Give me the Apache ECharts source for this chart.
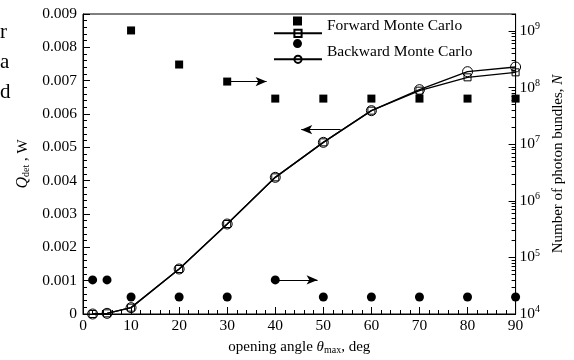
<!DOCTYPE html>
<html>
<head>
<meta charset="utf-8">
<script src="https://cdn.jsdelivr.net/npm/echarts@6/dist/echarts.min.js"></script>
<style>
html, body { margin: 0; padding: 0; background: #fff; }
#chart { width: 574px; height: 360px; }
</style>
</head>
<body>
<div id="chart"></div>
<script>
// opening angle (deg) and detected power Q (W)
const angles = [2, 5, 10, 20, 30, 40, 50, 60, 70, 80, 90];
const forwardQ = [0, 0.00002, 0.00019, 0.00135, 0.0027, 0.0041, 0.00515, 0.0061, 0.0067, 0.0071, 0.00725];
const backwardQ = [0, 0.00002, 0.00019, 0.00135, 0.0027, 0.0041, 0.00515, 0.0061, 0.00673, 0.00727, 0.00741];

// number of photon bundles N
const forwardAngles = [10, 20, 30, 40, 50, 60, 70, 80, 90];
const forwardN = [1.024e9, 2.56e8, 1.28e8, 6.4e7, 6.4e7, 6.4e7, 6.4e7, 6.4e7, 6.4e7];
const backwardN = [4e4, 4e4, 2e4, 2e4, 2e4, 4e4, 2e4, 2e4, 2e4, 2e4, 2e4];

// tick values
const nMajor = [1e4, 1e5, 1e6, 1e7, 1e8, 1e9];
const nMinor = [];
nMajor.forEach(function (p) {
  for (let k = 2; k <= 9; k++) {
    if (p * k <= 2e9) nMinor.push(p * k);
  }
});

// annotation arrows [from, to]
const arrowsN = [[[30, 1.28e8], [38.2, 1.28e8]], [[40, 4e4], [48.8, 4e4]]];
const arrowsQ = [[[53.6, 0.00553], [45.4, 0.00553]]];

const FONT = "'Liberation Serif', 'DejaVu Serif', serif";

function pairs(xs, ys) {
  return xs.map(function (x, i) { return [x, ys[i]]; });
}
function arrowLines(list) {
  return list.map(function (a) {
    return [{ coord: a[0] }, { coord: a[1] }];
  });
}

const chart = echarts.init(document.getElementById('chart'));
const option = {
  animation: false,
  textStyle: { fontFamily: FONT, color: '#000' },
  grid: {
    left: 83, right: 51, top: 14, bottom: 39,
    show: true, borderColor: '#000', borderWidth: 1, backgroundColor: 'transparent'
  },
  graphic: [
    { type: 'text', left: 0, top: 22, style: { text: 'r', font: "21px 'Liberation Serif'", fill: '#000' } },
    { type: 'text', left: 0, top: 52, style: { text: 'a', font: "21px 'Liberation Serif'", fill: '#000' } },
    { type: 'text', left: 0, top: 82, style: { text: 'd', font: "21px 'Liberation Serif'", fill: '#000' } }
  ],
  legend: [
    {
      data: ['Forward Monte Carlo', 'Backward Monte Carlo'],
      orient: 'vertical',
      left: 293, top: 16.5, padding: 0,
      itemWidth: 9, itemHeight: 9, itemGap: 13.6,
      formatter: function () { return ''; },
      textStyle: { fontSize: 8, lineHeight: 8 },
      selectedMode: false
    },
    {
      data: ['Forward Q', 'Backward Q'],
      orient: 'vertical',
      left: 273, top: 18.3, padding: 0,
      itemWidth: 48, itemHeight: 9, itemGap: -4,
      formatter: function (name) {
        return '{t|' + (name === 'Forward Q' ? 'Forward Monte Carlo' : 'Backward Monte Carlo') + '}';
      },
      textStyle: {
        fontFamily: FONT, fontSize: 15.5, color: '#000',
        rich: { t: { fontFamily: FONT, fontSize: 15.5, lineHeight: 16, color: '#000', padding: [0, 0, 14, 0] } }
      },
      selectedMode: false
    }
  ],
  xAxis: {
    type: 'value',
    min: 0, max: 90, interval: 10,
    name: 'opening angle {i|θ}{sub|max}, deg',
    nameLocation: 'middle', nameGap: 25,
    nameTextStyle: {
      fontFamily: FONT, fontSize: 15, color: '#000',
      rich: {
        i: { fontFamily: FONT, fontStyle: 'italic', fontSize: 15 },
        sub: { fontFamily: FONT, fontSize: 10, verticalAlign: 'bottom', padding: [6, 0, 0, 0] }
      }
    },
    axisLine: { lineStyle: { color: '#000', width: 1 } },
    axisTick: { inside: true, length: 7, lineStyle: { color: '#000' } },
    minorTick: { show: true, splitNumber: 5, length: 4, lineStyle: { color: '#000' } },
    axisLabel: { fontFamily: FONT, fontSize: 15.5, color: '#000', margin: 4 },
    splitLine: { show: false }
  },
  yAxis: [
    {
      type: 'value',
      min: 0, max: 0.009, interval: 0.001,
      position: 'left',
      name: '{i|Q}{sub|det}{n| , W}',
      nameLocation: 'middle', nameGap: 52, nameRotate: 90,
      nameTextStyle: {
        fontFamily: FONT, fontSize: 15, color: '#000',
        rich: {
          i: { fontFamily: FONT, fontStyle: 'italic', fontSize: 16 },
          sub: { fontFamily: FONT, fontStyle: 'normal', fontSize: 10, padding: [6, 0, 0, 0] },
          n: { fontFamily: FONT, fontStyle: 'normal', fontSize: 15 }
        }
      },
      axisLine: { show: true, lineStyle: { color: '#000' } },
      axisTick: { show: true, inside: true, length: 7, lineStyle: { color: '#000' } },
      minorTick: { show: true, splitNumber: 5, length: 4, lineStyle: { color: '#000' } },
      axisLabel: {
        fontFamily: FONT, fontSize: 15.5, color: '#000', margin: 6,
        formatter: function (v) { return v === 0 ? '0' : v.toFixed(3); }
      },
      splitLine: { show: false }
    },
    {
      type: 'log', logBase: 10,
      min: 1e4, max: 2e9,
      position: 'right',
      name: 'Number of photon bundles, {i|N}',
      nameLocation: 'middle', nameGap: 30, nameRotate: 90,
      nameTextStyle: {
        fontFamily: FONT, fontSize: 15, color: '#000',
        rich: { i: { fontFamily: FONT, fontStyle: 'italic', fontSize: 15 } }
      },
      axisLine: { show: true, lineStyle: { color: '#000' } },
      axisTick: { show: true, inside: true, length: 7, customValues: nMajor, lineStyle: { color: '#000' } },
      axisLabel: {
        customValues: nMajor,
        margin: 4,
        formatter: function (v) {
          return '{b|10}{s|' + Math.round(Math.log10(v)) + '}';
        },
        rich: {
          b: { fontFamily: FONT, fontSize: 15.5, color: '#000' },
          s: { fontFamily: FONT, fontSize: 10, color: '#000', padding: [0, 0, 9, 0] }
        }
      },
      splitLine: { show: false }
    },
    {
      type: 'log', logBase: 10,
      min: 1e4, max: 2e9,
      position: 'right',
      axisLine: { show: false },
      axisTick: { show: true, inside: true, length: 4, customValues: nMinor, lineStyle: { color: '#000' } },
      axisLabel: { show: false },
      splitLine: { show: false }
    }
  ],
  series: [
    {
      name: 'Forward Q',
      type: 'line',
      yAxisIndex: 0,
      data: pairs(angles, forwardQ),
      symbol: 'rect', symbolSize: 7,
      itemStyle: { color: 'transparent', borderColor: '#000', borderWidth: 1 },
      lineStyle: { color: '#000', width: 1.4 },
      markLine: {
        silent: true, symbol: ['none', 'arrow'], symbolSize: [7, 11],
        label: { show: false },
        lineStyle: { color: '#000', width: 1, type: 'solid' },
        data: arrowLines(arrowsQ)
      },
      z: 3
    },
    {
      name: 'Backward Q',
      type: 'line',
      yAxisIndex: 0,
      data: pairs(angles, backwardQ),
      symbol: 'circle', symbolSize: 10,
      itemStyle: { color: 'transparent', borderColor: '#000', borderWidth: 1 },
      lineStyle: { color: '#000', width: 1.4 },
      z: 3
    },
    {
      name: 'Forward Monte Carlo',
      type: 'scatter',
      yAxisIndex: 1,
      data: pairs(forwardAngles, forwardN),
      symbol: 'rect', symbolSize: 8,
      itemStyle: { color: '#000', opacity: 1 },
      markLine: {
        silent: true, symbol: ['none', 'arrow'], symbolSize: [7, 11],
        label: { show: false },
        lineStyle: { color: '#000', width: 1, type: 'solid' },
        data: arrowLines(arrowsN)
      }
    },
    {
      name: 'Backward Monte Carlo',
      type: 'scatter',
      yAxisIndex: 1,
      data: pairs(angles, backwardN),
      symbol: 'circle', symbolSize: 9,
      itemStyle: { color: '#000', opacity: 1 }
    }
  ]
};
chart.setOption(option);
</script>
</body>
</html>
